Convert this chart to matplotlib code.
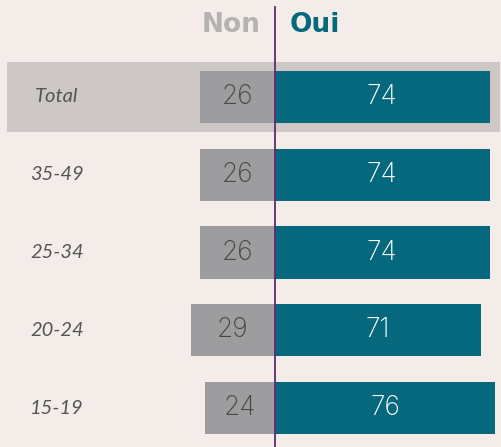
import matplotlib
matplotlib.use("Agg")
import matplotlib.pyplot as plt

categories = ["Total", "35-49", "25-34", "20-24", "15-19"]
non_values = [26, 26, 26, 29, 24]
oui_values = [74, 74, 74, 71, 76]
series_names = ["Non", "Oui"]

BG = "#f4ece9"
TEAL = "#05687c"
GREY = "#9d9c9e"
BAND = "#cdc8c5"
LINE = "#5b2d6b"

W, H = 502, 447
fig = plt.figure(figsize=(W / 100, H / 100), dpi=100, facecolor=BG)
ax = fig.add_axes([0, 0, 1, 1], facecolor=BG)

px_per_unit = 2.9
cx = 275
ax.set_xlim(-cx / px_per_unit, (W - cx) / px_per_unit)
row0, step = 97, 77.75
ax.set_ylim((H - row0) / step, -row0 / step)
for s in ax.spines.values():
    s.set_visible(False)
ax.set_xticks([])
ax.set_yticks([])

# highlight band for Total
ax.axhspan(-0.45, 0.45, xmin=7 / W, xmax=500 / W, color=BAND, zorder=0, lw=0)

ys = list(range(len(categories)))
ax.barh(ys, [-v for v in non_values], height=0.67, color=GREY, zorder=2, lw=0)
ax.barh(ys, oui_values, height=0.67, color=TEAL, zorder=2, lw=0)

ax.axvline(0, ymin=0, ymax=1 - 7 / H, color=LINE, lw=1.3, zorder=3)

num_font = dict(family=["Inter", "DejaVu Sans"], fontsize=19, fontweight="light")
for y, n, o in zip(ys, non_values, oui_values):
    ax.text(-n / 2, y, str(n), ha="center", va="center", color="#474747", zorder=4, **num_font)
    ax.text(o / 2, y, str(o), ha="center", va="center", color="white", zorder=4, **num_font)

for y, c in zip(ys, categories):
    xpos = 35 if c == "Total" else 30
    ax.text(xpos / px_per_unit - cx / px_per_unit, y, c, ha="left", va="center",
            fontsize=14.5, style="italic", color="#555555", family=["Lato", "DejaVu Sans"])

head_y = (25 - row0) / step
ax.text(-14 / px_per_unit, head_y, series_names[0], ha="right", va="center",
        fontsize=19, fontweight="bold", color="#b3b3b3", family=["DejaVu Sans"])
ax.text(15 / px_per_unit, head_y, series_names[1], ha="left", va="center",
        fontsize=19, fontweight="bold", color=TEAL, family=["DejaVu Sans"])

fig.savefig("out.png", dpi=100, facecolor=BG)
